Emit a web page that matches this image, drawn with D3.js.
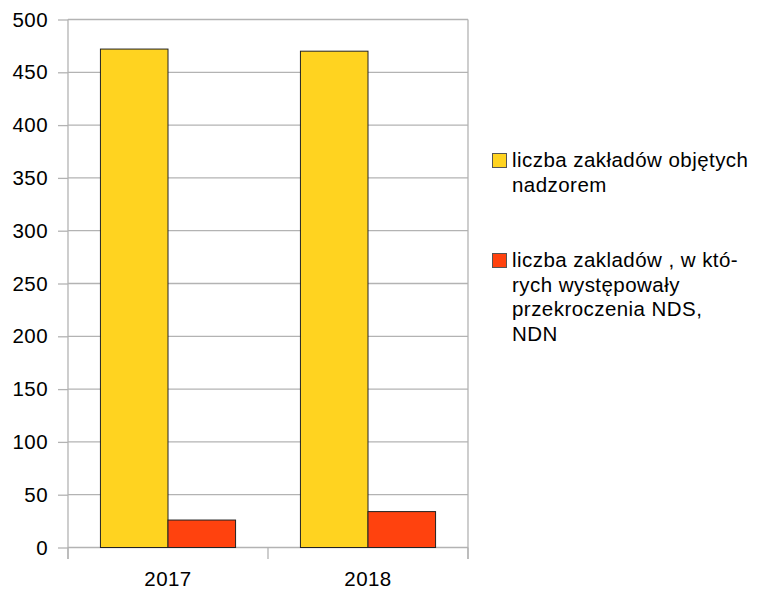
<!DOCTYPE html>
<html>
<head>
<meta charset="utf-8">
<script src="https://cdn.jsdelivr.net/npm/d3@7"></script>
<style>
  body { margin: 0; background: #fff; }
  text { font-family: "Liberation Sans", Arial, sans-serif; fill: #000; letter-spacing: 0.45px; }
</style>
</head>
<body>
<svg id="chart" width="757" height="591"></svg>
<script>
const years = ["2017", "2018"];
const seriesNames = [
  ["liczba zakładów objętych", "nadzorem"],
  ["liczba zakladów , w któ-", "rych występowały", "przekroczenia NDS,", "NDN"]
];
const supervised = [472, 470];
const exceeded = [26, 34];
const yTicks = [0, 50, 100, 150, 200, 250, 300, 350, 400, 450, 500];
const colors = ["#ffd320", "#ff420e"];

const margin = { top: 19.5, left: 68, right: 289, bottom: 43.5 };
const width = 757 - margin.left - margin.right;
const height = 591 - margin.top - margin.bottom;

const svg = d3.select("#chart");
const g = svg.append("g").attr("transform", `translate(${margin.left},${margin.top})`);

const y = d3.scaleLinear().domain([0, 500]).range([height, 0]);
const x = d3.scaleBand().domain(years).range([0, width]);
const xs = d3.scaleBand().domain([0, 1]).range([0, x.bandwidth()]).paddingOuter(0.48);

// grid
g.selectAll(".grid")
  .data(yTicks)
  .join("line")
  .attr("x1", 0)
  .attr("x2", width)
  .attr("y1", (d) => y(d))
  .attr("y2", (d) => y(d))
  .attr("stroke", "#b3b3b3")
  .attr("stroke-width", 1.3);

// right border
g.append("line")
  .attr("x1", width).attr("x2", width)
  .attr("y1", 0).attr("y2", height + 11.5)
  .attr("stroke", "#b3b3b3").attr("stroke-width", 1.3);

// y axis
const yAxis = g.append("g")
  .call(d3.axisLeft(y).tickValues(yTicks).tickSize(10).tickPadding(10));
yAxis.select(".domain").remove();
yAxis.selectAll(".tick line").attr("stroke", "#b3b3b3").attr("stroke-width", 1.3);
yAxis.selectAll(".tick text")
  .attr("font-family", "Liberation Sans, Arial, sans-serif")
  .attr("font-size", "20.5px")
  .attr("fill", "#000");
g.append("line")
  .attr("x1", 0).attr("x2", 0)
  .attr("y1", 0).attr("y2", height + 11.5)
  .attr("stroke", "#b3b3b3").attr("stroke-width", 1.3);

// x ticks at category boundaries
const bounds = [0, x.bandwidth(), width];
g.selectAll(".xt")
  .data(bounds)
  .join("line")
  .attr("x1", (d) => d).attr("x2", (d) => d)
  .attr("y1", height).attr("y2", height + 11.5)
  .attr("stroke", "#b3b3b3").attr("stroke-width", 1.3);

g.selectAll(".xl")
  .data(years)
  .join("text")
  .attr("x", (d) => x(d) + x.bandwidth() / 2)
  .attr("y", height + 38.5)
  .attr("text-anchor", "middle")
  .attr("font-size", "20.5px")
  .text((d) => d);

// bars
const values = [supervised, exceeded];
values.forEach((vals, si) => {
  g.selectAll(".bar" + si)
    .data(years)
    .join("rect")
    .attr("x", (d) => x(d) + xs(si))
    .attr("y", (d, i) => y(vals[i]))
    .attr("width", xs.bandwidth())
    .attr("height", (d, i) => height - y(vals[i]))
    .attr("fill", colors[si])
    .attr("stroke", "#222")
    .attr("stroke-width", 1);
});

// legend
const legendTops = [153, 253];
seriesNames.forEach((lines, si) => {
  const lg = svg.append("g").attr("transform", `translate(492,${legendTops[si]})`);
  lg.append("rect")
    .attr("x", 0.5).attr("y", 0.5)
    .attr("width", 14).attr("height", 14)
    .attr("fill", colors[si])
    .attr("stroke", "#555");
  lg.selectAll("text")
    .data(lines)
    .join("text")
    .attr("x", 20)
    .attr("y", (d, i) => 14 + i * 24.5)
    .attr("font-size", "20.5px")
    .text((d) => d);
});
</script>
</body>
</html>
